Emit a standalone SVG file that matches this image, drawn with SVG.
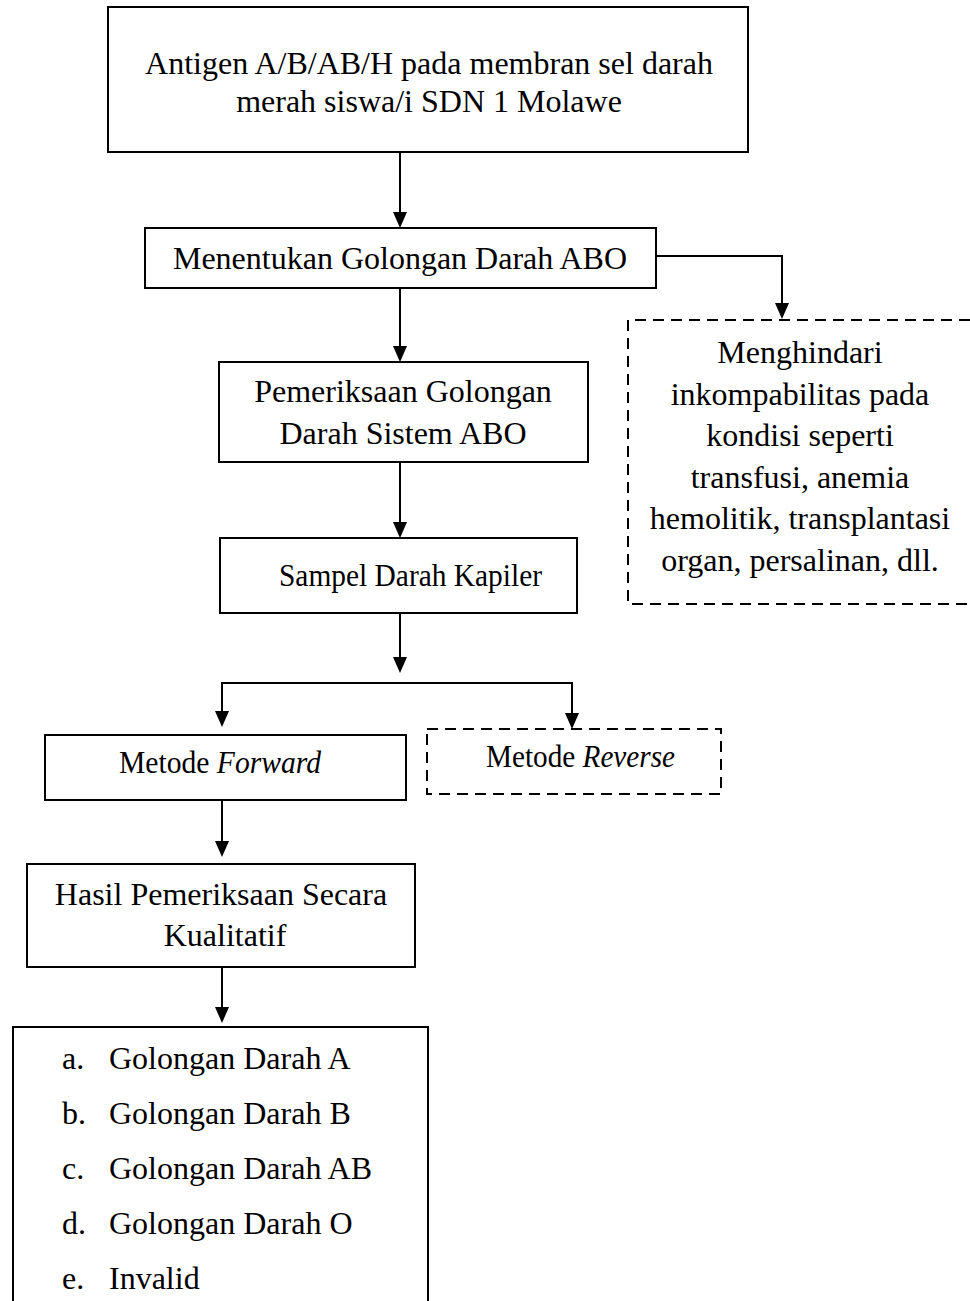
<svg xmlns="http://www.w3.org/2000/svg" width="970" height="1301" viewBox="0 0 970 1301">
<defs>
<marker id="arr" viewBox="0 0 14 16" refX="7" refY="16" markerWidth="14" markerHeight="16" markerUnits="userSpaceOnUse" orient="auto">
<path d="M0,0 L14,0 L7,16 Z" fill="#000"/>
</marker>
<style>
.box{fill:#fff;stroke:#000;stroke-width:2}
.dash{fill:none;stroke:#000;stroke-width:2;stroke-dasharray:11 7}
.t{font-family:"Liberation Serif","Times New Roman",serif;font-size:32px;fill:#000}
.c{text-anchor:middle}
.ln{fill:none;stroke:#000;stroke-width:2}
.ah{fill:#000;stroke:none}
</style>
</defs>
<rect width="970" height="1301" fill="#fff"/>
<g id="connectors">
<line class="ln" x1="400" y1="152" x2="400" y2="214"/>
<path class="ah" d="M393,212 L407,212 L400,228 Z"/>
<polyline class="ln" points="656,256 782,256 782,306"/>
<path class="ah" d="M775,303 L789,303 L782,319 Z"/>
<line class="ln" x1="400" y1="288" x2="400" y2="348"/>
<path class="ah" d="M393,346 L407,346 L400,362 Z"/>
<line class="ln" x1="400" y1="462" x2="400" y2="524"/>
<path class="ah" d="M393,522 L407,522 L400,538 Z"/>
<line class="ln" x1="400" y1="613" x2="400" y2="659"/>
<path class="ah" d="M393,657 L407,657 L400,673 Z"/>
<polyline class="ln" points="222,713 222,683 572,683 572,713"/>
<path class="ah" d="M215,711 L229,711 L222,727 Z"/>
<path class="ah" d="M565,713 L579,713 L572,729 Z"/>
<line class="ln" x1="222" y1="800" x2="222" y2="843"/>
<path class="ah" d="M215,841 L229,841 L222,857 Z"/>
<line class="ln" x1="222" y1="967" x2="222" y2="1009"/>
<path class="ah" d="M215,1007 L229,1007 L222,1023 Z"/>
</g>
<g id="node-antigen">
<rect class="box" x="108" y="7" width="640" height="145"/>
<text class="t c" x="429" y="74">Antigen A/B/AB/H pada membran sel darah</text>
<text class="t c" x="429" y="112">merah siswa/i SDN 1 Molawe</text>
</g>
<g id="node-menentukan">
<rect class="box" x="145" y="228" width="511" height="60"/>
<text class="t c" x="400" y="269">Menentukan Golongan Darah ABO</text>
</g>
<g id="node-menghindari">
<path class="dash" d="M970,320 L628,320 L628,604 L970,604"/>
<text class="t c" x="800" y="363">Menghindari</text>
<text class="t c" x="800" y="405">inkompabilitas pada</text>
<text class="t c" x="800" y="446">kondisi seperti</text>
<text class="t c" x="800" y="488">transfusi, anemia</text>
<text class="t c" x="800" y="529">hemolitik, transplantasi</text>
<text class="t c" x="800" y="571">organ, persalinan, dll.</text>
</g>
<g id="node-pemeriksaan">
<rect class="box" x="219" y="362" width="369" height="100"/>
<text class="t c" x="403" y="402">Pemeriksaan Golongan</text>
<text class="t c" x="403" y="444">Darah Sistem ABO</text>
</g>
<g id="node-sampel">
<rect class="box" x="220" y="538" width="357" height="75"/>
<text class="t" x="279" y="586" textLength="263" lengthAdjust="spacingAndGlyphs">Sampel Darah Kapiler</text>
</g>
<g id="node-forward">
<rect class="box" x="45" y="735" width="361" height="65"/>
<text class="t" x="119" y="773" textLength="202" lengthAdjust="spacingAndGlyphs">Metode <tspan font-style="italic">Forward</tspan></text>
</g>
<g id="node-reverse">
<rect class="dash" x="427" y="729" width="294" height="65"/>
<text class="t" x="486" y="767" textLength="189" lengthAdjust="spacingAndGlyphs">Metode <tspan font-style="italic">Reverse</tspan></text>
</g>
<g id="node-hasil">
<rect class="box" x="27" y="864" width="388" height="103"/>
<text class="t c" x="221" y="905">Hasil Pemeriksaan Secara</text>
<text class="t c" x="225" y="946">Kualitatif</text>
</g>
<g id="node-list">
<path class="ln" d="M13,1301 L13,1027 L428,1027 L428,1301"/>
<text class="t" x="62" y="1069">a.</text><text class="t" x="109" y="1069">Golongan Darah A</text>
<text class="t" x="62" y="1124">b.</text><text class="t" x="109" y="1124">Golongan Darah B</text>
<text class="t" x="62" y="1179">c.</text><text class="t" x="109" y="1179">Golongan Darah AB</text>
<text class="t" x="62" y="1234">d.</text><text class="t" x="109" y="1234">Golongan Darah O</text>
<text class="t" x="62" y="1289">e.</text><text class="t" x="109" y="1289">Invalid</text>
</g>
</svg>
